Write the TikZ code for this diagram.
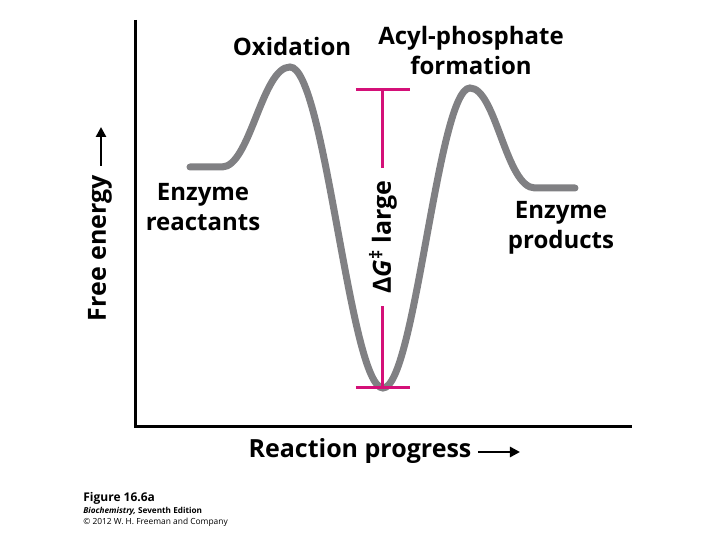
\documentclass[tikz,border=0pt]{standalone}
\usepackage{fontspec}
\setmainfont{Open Sans}
\usetikzlibrary{arrows.meta}
\definecolor{curvegray}{RGB}{128,128,131}
\definecolor{barmagenta}{RGB}{212,16,120}

\begin{document}
\begin{tikzpicture}[x=0.5pt,y=-0.5pt,
    lbl/.style={font=\bfseries\fontsize{12}{15}\selectfont,align=center,inner sep=0pt},
    axislbl/.style={font=\bfseries\fontsize{12.5}{15}\selectfont,inner sep=0pt},
    axisarrow/.style={line width=1.3pt,-{Triangle[length=5pt,width=5pt]}},
    curve/.style={line width=3.5pt,curvegray,line cap=round},
    gbar/.style={line width=1.5pt,barmagenta}]
    \useasboundingbox (0,0) rectangle (720,540);

    % Axes
    \coordinate (top) at (136,20);
    \coordinate (origin) at (136,427);
    \coordinate (xend) at (632,427);
    \draw[line width=1.5pt] (top) -- (origin) -- (xend);

    % Energy curve
    \draw[curve] (190,167) -- (222,167)
        .. controls (250,167) and (262,67) .. (290,67)
        .. controls (325,67) and (350,388) .. (383,388)
        .. controls (415,388) and (438,88) .. (470,88)
        .. controls (496,88) and (506,188) .. (535,188)
        -- (575,188);

    % Activation barrier
    \coordinate (dgtop) at (383,90);
    \coordinate (dgbot) at (383,388);
    \draw[gbar] (dgtop) -- (dgbot);
    \draw[gbar] ([xshift=-13.5pt]dgtop) -- ([xshift=13.5pt]dgtop);
    \draw[gbar] ([xshift=-13.5pt]dgbot) -- ([xshift=13.5pt]dgbot);
    \node[axislbl,rotate=90,fill=white,inner xsep=6pt,inner ysep=1pt] (dg) at (383,237)
        {Δ\textit{G}\textsuperscript{‡} large};

    % Labels
    \node[lbl] (ox) at (292,47) {Oxidation};
    \node[lbl] (acyl) at (471,51) {Acyl-phosphate\\formation};
    \node[lbl] (reac) at (203,207) {Enzyme\\reactants};
    \node[lbl] (prod) at (561,228) {Enzyme\\products};

    % Axis titles
    \node[axislbl,rotate=90] (yl) at (100,248) {Free energy};
    \coordinate (ytail) at (101,166);
    \coordinate (ytip) at (101,127);
    \draw[axisarrow] (ytail) -- (ytip);
    \node[axislbl] (xl) at (360,451) {Reaction progress};
    \coordinate (xtail) at (478,452);
    \coordinate (xtip) at (520,452);
    \draw[axisarrow] (xtail) -- (xtip);

    % Caption
    \node[anchor=west,inner sep=0pt,font=\bfseries\fontsize{6}{7}\selectfont] (fig) at (83,498) {Figure 16.6a};
    \node[anchor=west,inner sep=0pt,font=\fontsize{4.1}{5}\selectfont] (book) at (83,511) {\textbf{\textit{Biochemistry,} Seventh Edition}};
    \node[anchor=west,inner sep=0pt,font=\fontsize{4.2}{5}\selectfont] (copy) at (83,522) {© 2012 W. H. Freeman and Company};
\end{tikzpicture}
\end{document}
